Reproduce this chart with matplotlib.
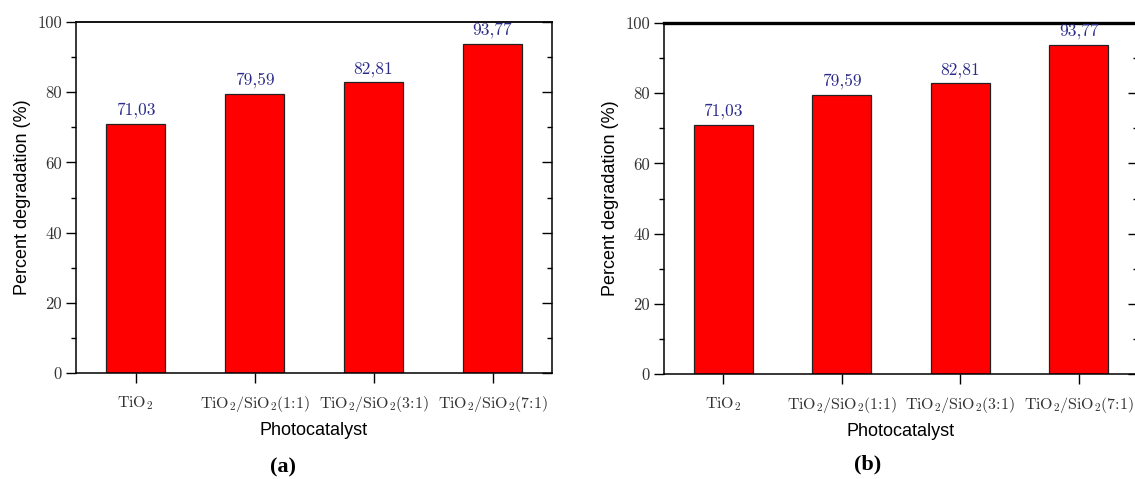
import matplotlib
matplotlib.use("Agg")
import matplotlib.pyplot as plt
from matplotlib.ticker import MultipleLocator

plt.rcParams['mathtext.fontset'] = 'cm'
plt.rcParams['axes.unicode_minus'] = False

# degradation results for each photocatalyst
catalysts = ['TiO$_2$',
             'TiO$_2$/SiO$_2$(1:1)',
             'TiO$_2$/SiO$_2$(3:1)',
             'TiO$_2$/SiO$_2$(7:1)']
degradation_a = [71.03, 79.59, 82.81, 93.77]
degradation_b = [71.03, 79.59, 82.81, 93.77]
panel_names = ['(a)', '(b)']

bar_color = '#ff0000'
value_color = '#2b2b8a'
tick_color = '#333333'
serif = 'cmr10'


def draw_panel(ax, values, top_lw):
    x = range(len(values))
    bars = ax.bar(x, values, width=0.5, color=bar_color, edgecolor='#222222', linewidth=0.9)
    for b, v in zip(bars, values):
        txt = ('%.2f' % v).replace('.', ',')
        ax.annotate(txt, (b.get_x() + b.get_width() / 2, v), xytext=(0, 4),
                    textcoords='offset points', ha='center', va='bottom',
                    color=value_color, fontsize=12.5, family=serif)
    ax.set_xlim(-0.5, 3.5)
    ax.set_ylim(0, 100)
    ax.set_xticks(list(x))
    ax.set_xticklabels(catalysts, fontsize=11.5, color=tick_color, family=serif)
    ax.yaxis.set_major_locator(MultipleLocator(20))
    ax.yaxis.set_minor_locator(MultipleLocator(10))
    ax.set_yticks(range(0, 101, 20))
    ax.set_yticklabels([str(t) for t in range(0, 101, 20)], fontsize=12,
                       color=tick_color, family=serif)
    ax.tick_params(axis='y', which='major', direction='out', length=7, width=1, pad=3)
    ax.tick_params(axis='y', which='minor', direction='out', length=3.5, width=1)
    ax.tick_params(axis='x', which='major', direction='out', length=7, width=1, pad=8)
    for s in ax.spines.values():
        s.set_linewidth(1.1)
    ax.spines['top'].set_linewidth(top_lw)

    # right-hand ticks point into the plot
    right = ax.twinx()
    right.set_ylim(0, 100)
    right.yaxis.set_major_locator(MultipleLocator(20))
    right.yaxis.set_minor_locator(MultipleLocator(10))
    right.tick_params(axis='y', which='major', direction='in', length=7, width=1, labelright=False)
    right.tick_params(axis='y', which='minor', direction='in', length=3.5, width=1)
    for s in right.spines.values():
        s.set_visible(False)

    ax.set_xlabel('Photocatalyst', family='Liberation Sans', fontsize=13, labelpad=6)
    ax.set_ylabel('Percent degradation (%)', family='Liberation Sans', fontsize=13)
    ax.yaxis.set_label_coords(-0.095, 0.5)


fig = plt.figure(figsize=(11.35, 4.79), dpi=100)
W, H = 1135, 479
ax1 = fig.add_axes([76 / W, 1 - 373 / H, 476 / W, 351 / H])
ax2 = fig.add_axes([664 / W, 1 - 374 / H, 474 / W, 351 / H])

draw_panel(ax1, degradation_a, 1.3)
draw_panel(ax2, degradation_b, 2.4)

fig.text(283 / W, 1 - 467 / H, panel_names[0], ha='center', va='center',
         family='Liberation Serif', fontweight='bold', fontsize=16)
fig.text(868 / W, 1 - 464 / H, panel_names[1], ha='center', va='center',
         family='Liberation Serif', fontweight='bold', fontsize=16)

fig.savefig('out.png', dpi=100)
